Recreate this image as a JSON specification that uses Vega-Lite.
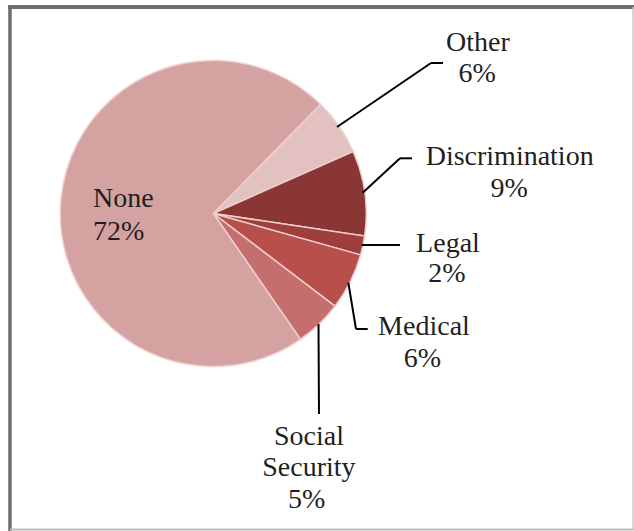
{
  "$schema": "https://vega.github.io/schema/vega-lite/v6.json",
  "width": 634,
  "height": 531,
  "autosize": {"type": "none"},
  "padding": 0,
  "background": "white",
  "config": {
    "view": {"stroke": null},
    "axis": {"disable": true},
    "text": {"font": "Times New Roman, Times, serif", "fontSize": 28, "color": "#1f1f1f", "align": "center", "baseline": "alphabetic"}
  },
  "data": {
    "values": [
      {"category": "Other", "share": 0.06},
      {"category": "Discrimination", "share": 0.09},
      {"category": "Legal", "share": 0.02},
      {"category": "Medical", "share": 0.06},
      {"category": "Social Security", "share": 0.05},
      {"category": "None", "share": 0.72}
    ]
  },
  "layer": [
    {
      "transform": [{"window": [{"op": "row_number", "as": "idx"}]}],
      "mark": {"type": "arc", "outerRadius": 153, "stroke": "#efcfce", "strokeWidth": 1.5},
      "encoding": {
        "x": {"datum": 0, "type": "quantitative", "axis": null, "scale": {"domain": [-1.3941, 2.7497], "nice": false, "zero": false}},
        "y": {"datum": 0, "type": "quantitative", "axis": null, "scale": {"domain": [-2.0752, 1.3954], "nice": false, "zero": false}},
        "theta": {"field": "share", "type": "quantitative", "stack": true, "scale": {"range": [0.7767, 7.0599]}},
        "color": {
          "field": "category", "type": "nominal", "legend": null,
          "scale": {
            "domain": ["Other", "Discrimination", "Legal", "Medical", "Social Security", "None"],
            "range": ["#e2c1c0", "#8a3634", "#9f3e3b", "#b84f4b", "#c46f6e", "#d4a2a1"]
          }
        },
        "order": {"field": "idx", "type": "quantitative"}
      }
    },
    {
      "transform": [{"filter": {"field": "category", "equal": "None"}}],
      "layer": [
        {"mark": {"type": "rule", "color": "#6e6e6e", "strokeWidth": 4},
         "encoding": {"x": {"datum": -1.342, "type": "quantitative"}, "x2": {"datum": 2.75}, "y": {"datum": 1.350, "type": "quantitative"}, "y2": {"datum": 1.350}}},
        {"mark": {"type": "rule", "color": "#6e6e6e", "strokeWidth": 3.5},
         "encoding": {"x": {"datum": -1.329, "type": "quantitative"}, "x2": {"datum": -1.329}, "y": {"datum": 1.363, "type": "quantitative"}, "y2": {"datum": -2.075}}},
        {"mark": {"type": "rule", "color": "#bdbdbd", "strokeWidth": 2},
         "encoding": {"x": {"datum": -1.329, "type": "quantitative"}, "x2": {"datum": 2.75}, "y": {"datum": -2.065, "type": "quantitative"}, "y2": {"datum": -2.065}}},
        {"mark": {"type": "rule", "color": "#c8c8c8", "strokeWidth": 1.5},
         "encoding": {"x": {"datum": 2.743, "type": "quantitative"}, "x2": {"datum": 2.743}, "y": {"datum": 1.350, "type": "quantitative"}, "y2": {"datum": -2.065}}},
        {"mark": {"type": "rule", "color": "black", "strokeWidth": 2},
         "encoding": {"x": {"datum": 0.8085, "type": "quantitative"}, "x2": {"datum": 1.4229}, "y": {"datum": 0.5654, "type": "quantitative"}, "y2": {"datum": 0.9837}}},
        {"mark": {"type": "rule", "color": "black", "strokeWidth": 2},
         "encoding": {"x": {"datum": 1.4229, "type": "quantitative"}, "x2": {"datum": 1.5013}, "y": {"datum": 0.9837, "type": "quantitative"}, "y2": {"datum": 0.9837}}},
        {"mark": {"type": "rule", "color": "black", "strokeWidth": 2},
         "encoding": {"x": {"datum": 0.9765, "type": "quantitative"}, "x2": {"datum": 1.2203}, "y": {"datum": 0.1359, "type": "quantitative"}, "y2": {"datum": 0.3608}}},
        {"mark": {"type": "rule", "color": "black", "strokeWidth": 2},
         "encoding": {"x": {"datum": 1.2203, "type": "quantitative"}, "x2": {"datum": 1.2987}, "y": {"datum": 0.3608, "type": "quantitative"}, "y2": {"datum": 0.3608}}},
        {"mark": {"type": "rule", "color": "black", "strokeWidth": 2},
         "encoding": {"x": {"datum": 0.9699, "type": "quantitative"}, "x2": {"datum": 1.2203}, "y": {"datum": -0.2059, "type": "quantitative"}, "y2": {"datum": -0.2059}}},
        {"mark": {"type": "rule", "color": "black", "strokeWidth": 2},
         "encoding": {"x": {"datum": 0.8824, "type": "quantitative"}, "x2": {"datum": 0.9327}, "y": {"datum": -0.4523, "type": "quantitative"}, "y2": {"datum": -0.7549}}},
        {"mark": {"type": "rule", "color": "black", "strokeWidth": 2},
         "encoding": {"x": {"datum": 0.9327, "type": "quantitative"}, "x2": {"datum": 1.0092}, "y": {"datum": -0.7549, "type": "quantitative"}, "y2": {"datum": -0.7549}}},
        {"mark": {"type": "rule", "color": "black", "strokeWidth": 2},
         "encoding": {"x": {"datum": 0.6876, "type": "quantitative"}, "x2": {"datum": 0.6908}, "y": {"datum": -0.7222, "type": "quantitative"}, "y2": {"datum": -1.3105}}}
      ]
    },
    {
      "transform": [{"filter": {"field": "category", "equal": "Other"}}],
      "layer": [
        {"mark": {"type": "text"}, "encoding": {"text": {"field": "category"}, "x": {"datum": 1.730, "type": "quantitative"}, "y": {"datum": 1.064, "type": "quantitative"}}},
        {"mark": {"type": "text"}, "encoding": {"text": {"field": "share", "format": ".0%"}, "x": {"datum": 1.724, "type": "quantitative"}, "y": {"datum": 0.861, "type": "quantitative"}}}
      ]
    },
    {
      "transform": [{"filter": {"field": "category", "equal": "Discrimination"}}],
      "layer": [
        {"mark": {"type": "text"}, "encoding": {"text": {"field": "category"}, "x": {"datum": 1.937, "type": "quantitative"}, "y": {"datum": 0.317, "type": "quantitative"}}},
        {"mark": {"type": "text"}, "encoding": {"text": {"field": "share", "format": ".0%"}, "x": {"datum": 1.933, "type": "quantitative"}, "y": {"datum": 0.110, "type": "quantitative"}}}
      ]
    },
    {
      "transform": [{"filter": {"field": "category", "equal": "Legal"}}],
      "layer": [
        {"mark": {"type": "text"}, "encoding": {"text": {"field": "category"}, "x": {"datum": 1.534, "type": "quantitative"}, "y": {"datum": -0.250, "type": "quantitative"}}},
        {"mark": {"type": "text"}, "encoding": {"text": {"field": "share", "format": ".0%"}, "x": {"datum": 1.527, "type": "quantitative"}, "y": {"datum": -0.446, "type": "quantitative"}}}
      ]
    },
    {
      "transform": [{"filter": {"field": "category", "equal": "Medical"}}],
      "layer": [
        {"mark": {"type": "text"}, "encoding": {"text": {"field": "category"}, "x": {"datum": 1.377, "type": "quantitative"}, "y": {"datum": -0.794, "type": "quantitative"}}},
        {"mark": {"type": "text"}, "encoding": {"text": {"field": "share", "format": ".0%"}, "x": {"datum": 1.367, "type": "quantitative"}, "y": {"datum": -1.001, "type": "quantitative"}}}
      ]
    },
    {
      "transform": [{"filter": {"field": "category", "equal": "Social Security"}}],
      "layer": [
        {"mark": {"type": "text", "lineBreak": " ", "lineHeight": 31}, "encoding": {"text": {"field": "category"}, "x": {"datum": 0.625, "type": "quantitative"}, "y": {"datum": -1.516, "type": "quantitative"}}},
        {"mark": {"type": "text"}, "encoding": {"text": {"field": "share", "format": ".0%"}, "x": {"datum": 0.610, "type": "quantitative"}, "y": {"datum": -1.925, "type": "quantitative"}}}
      ]
    },
    {
      "transform": [{"filter": {"field": "category", "equal": "None"}}],
      "layer": [
        {"mark": {"type": "text", "align": "left"}, "encoding": {"text": {"field": "category"}, "x": {"datum": -0.786, "type": "quantitative"}, "y": {"datum": 0.044, "type": "quantitative"}}},
        {"mark": {"type": "text", "align": "left"}, "encoding": {"text": {"field": "share", "format": ".0%"}, "x": {"datum": -0.786, "type": "quantitative"}, "y": {"datum": -0.173, "type": "quantitative"}}}
      ]
    }
  ]
}
